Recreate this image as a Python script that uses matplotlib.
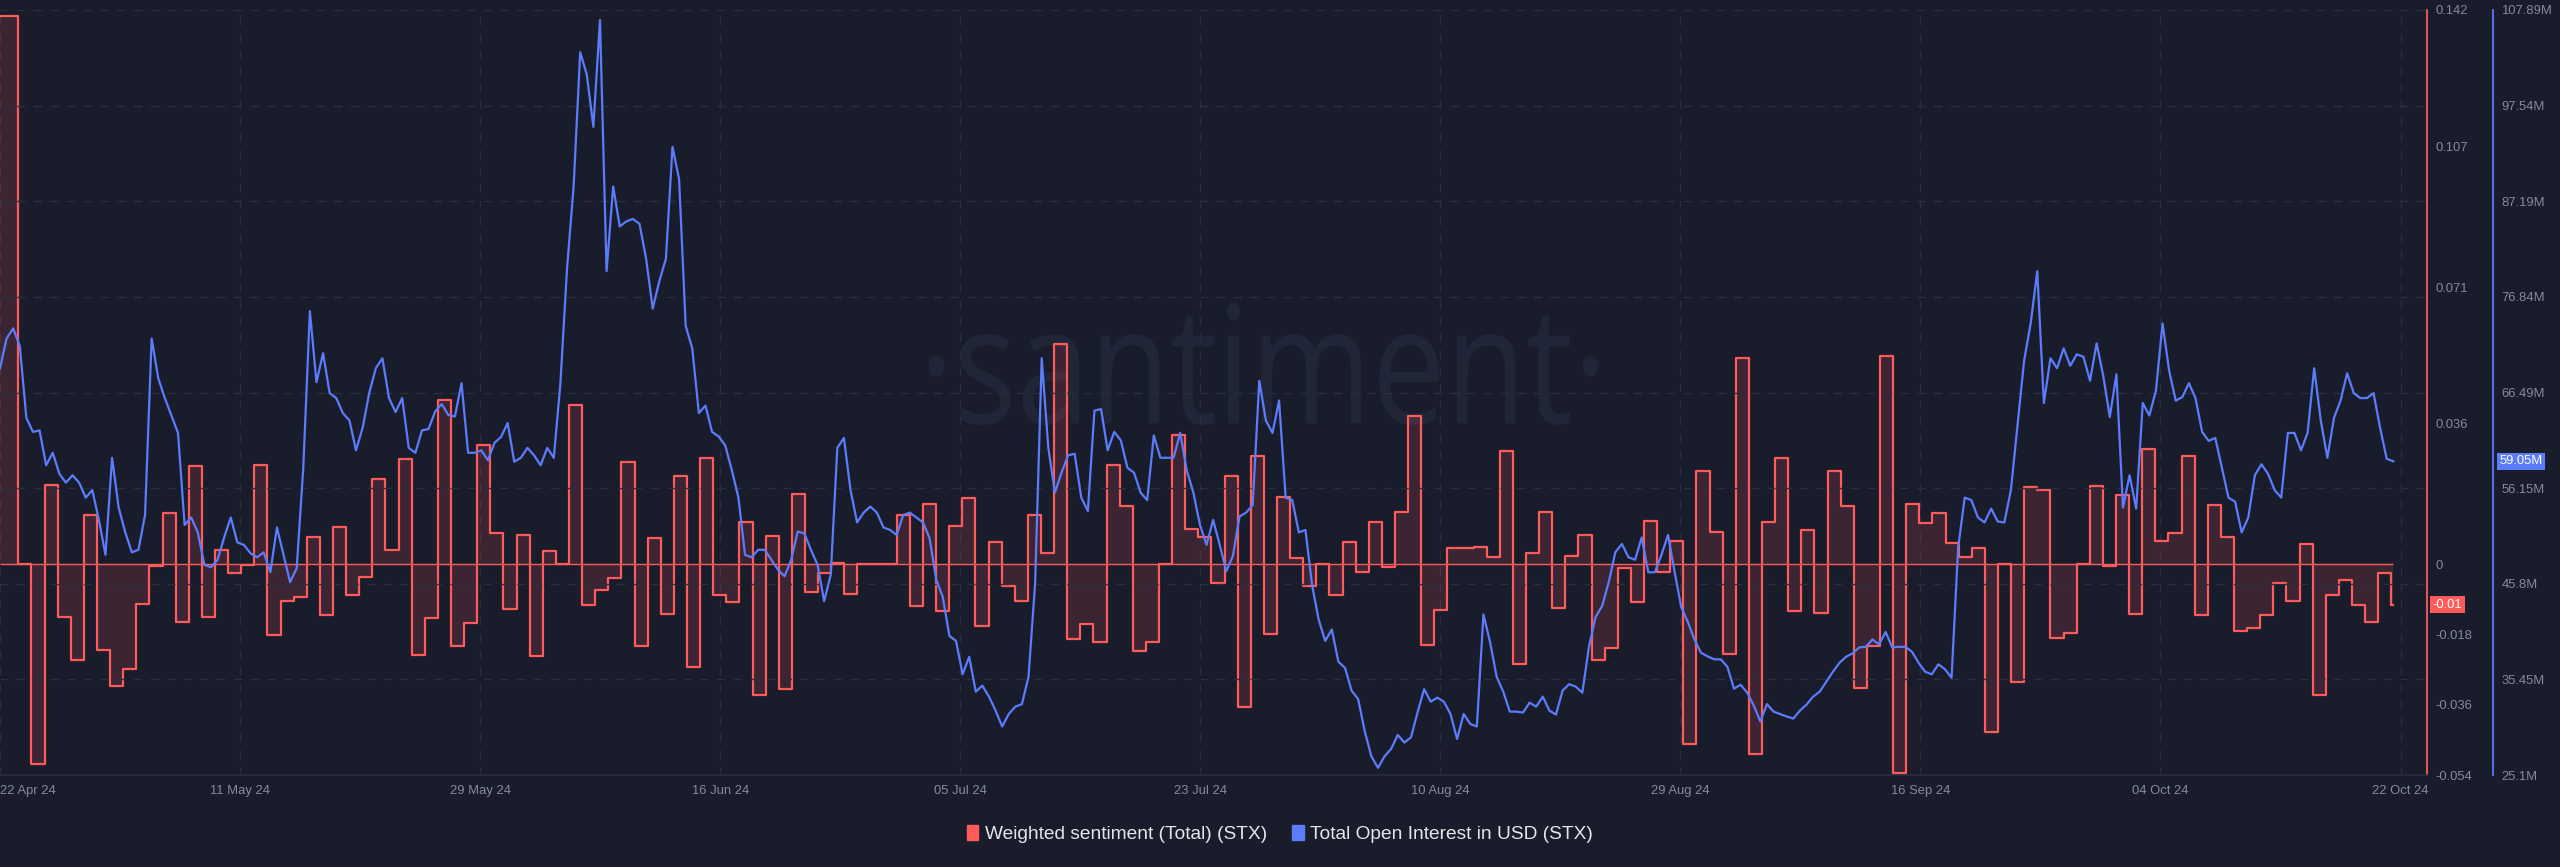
import numpy as np
import pandas as pd
import matplotlib as mpl
mpl.use('Agg')
import matplotlib.pyplot as plt
import matplotlib.dates as mdates
from matplotlib.patches import Patch, PathPatch
from matplotlib.textpath import TextPath
from matplotlib.font_manager import FontProperties
from matplotlib.transforms import Affine2D, IdentityTransform

plt.rcParams['font.family'] = ['Liberation Sans', 'DejaVu Sans']

# weighted sentiment, one value a day from 22 Apr 24
sentiment = [
    0.1405, 0.0, -0.0512, 0.0204, -0.0136, -0.0245, 0.0127, -0.022, -0.0312, -0.0268,
    -0.0102, -0.0004, 0.013, -0.0147, 0.0251, -0.0134, 0.0036, -0.0023, -0.0003, 0.0255,
    -0.0181, -0.0093, -0.0083, 0.0069, -0.0131, 0.0096, -0.0079, -0.0032, 0.0219, 0.0037,
    0.027, -0.0232, -0.0138, 0.0421, -0.021, -0.015, 0.0306, 0.0079, -0.0115, 0.0074,
    -0.0236, 0.0034, 0.0, 0.0408, -0.0105, -0.0066, -0.0036, 0.0261, -0.021, 0.0068,
    -0.0127, 0.0227, -0.0263, 0.0273, -0.008, -0.0098, 0.0107, -0.0335, 0.0073, -0.0319,
    0.0181, -0.007, -0.0023, 0.0003, -0.0076, 0.0, 0.0, 0.0, 0.0125, -0.0107,
    0.0155, -0.0119, 0.0099, 0.017, -0.0159, 0.0056, -0.0057, -0.0093, 0.0127, 0.0028,
    0.0563, -0.0191, -0.0153, -0.0198, 0.0255, 0.0149, -0.0223, -0.02, 0.0, 0.0331,
    0.0089, 0.007, -0.0047, 0.0226, -0.0366, 0.0278, -0.0178, 0.0172, 0.0017, -0.0055,
    0.0, -0.008, 0.0057, -0.0019, 0.0108, -0.0006, 0.0134, 0.0379, -0.0208, -0.0117,
    0.0042, 0.0042, 0.0045, 0.0019, 0.0289, -0.0255, 0.0029, 0.0134, -0.0111, 0.0022,
    0.0074, -0.0246, -0.0214, -0.0009, -0.0096, 0.0111, -0.0019, 0.006, -0.0461, 0.0238,
    0.0082, -0.0229, 0.0529, -0.0487, 0.0108, 0.0273, -0.0119, 0.0087, -0.0125, 0.024,
    0.015, -0.0316, -0.021, 0.0533, -0.0535, 0.0155, 0.0105, 0.013, 0.0054, 0.0019,
    0.0041, -0.0431, 0.0, -0.0302, 0.0198, 0.0191, -0.0189, -0.0176, 0.0, 0.0201,
    -0.0004, 0.0178, -0.0127, 0.0296, 0.006, 0.008, 0.0277, -0.013, 0.0153, 0.007,
    -0.0172, -0.0163, -0.0131, -0.0048, -0.0093, 0.0051, -0.0334, -0.008, -0.0041, -0.0105,
    -0.0149, -0.0022, -0.0104,
]

# total open interest in USD, millions, every half day
open_interest = [
    69.12, 72.35, 73.43, 71.54, 63.74, 62.23, 62.39, 58.62, 59.97, 57.70,
    56.74, 57.54, 56.74, 55.12, 55.93, 52.70, 48.93, 59.43, 54.04, 51.35,
    49.20, 49.47, 53.24, 72.35, 68.04, 65.89, 64.01, 62.12, 52.16, 52.97,
    51.35, 47.85, 47.58, 48.39, 50.81, 52.97, 50.27, 50.00, 49.09, 48.66,
    49.20, 47.04, 51.89, 48.93, 45.97, 47.47, 58.35, 75.30, 67.61, 70.74,
    66.43, 65.89, 64.27, 63.47, 60.24, 62.66, 66.43, 69.12, 70.20, 65.89,
    64.38,
    65.89, 60.50, 59.97, 62.39, 62.55, 64.44, 65.24, 64.06, 63.90, 67.50,
    59.97, 59.97, 60.24, 59.16, 61.04, 61.69, 63.20, 59.00, 59.43, 60.50,
    59.70, 58.62, 60.50, 59.43, 67.50, 79.89, 88.78, 103.32, 100.89, 95.24,
    106.82, 79.62, 88.78, 84.47, 85.01, 85.28, 84.74, 80.97, 75.58, 78.54,
    80.97, 93.08, 89.58, 73.70, 71.27, 64.27, 65.08, 62.23, 61.74, 60.77,
    58.08, 55.12, 48.93, 48.66, 49.47, 49.47, 48.39, 47.31, 46.61, 48.39,
    51.46,
    51.24, 49.47, 47.85, 43.92, 46.77, 60.50, 61.58, 55.93, 52.43, 53.50,
    54.15, 53.50, 51.89, 51.62, 51.08, 53.24, 53.50, 52.97, 52.43, 50.70,
    46.24, 44.35, 40.15, 39.61, 36.01, 37.89, 34.12, 34.77, 33.58, 32.08,
    30.35, 31.70, 32.50, 32.77, 35.73, 45.86, 70.20, 60.50, 55.66, 57.81,
    59.70, 59.86, 55.12, 53.67, 64.54, 64.70, 60.24, 62.23, 61.31, 58.35,
    57.81, 55.66, 54.85, 61.85, 59.43, 59.43, 59.43, 62.12, 58.08, 55.66,
    52.16, 50.00, 52.70, 50.00, 47.15, 48.82, 53.07, 53.50, 54.31, 67.77,
    63.47, 62.12, 65.62, 55.12, 54.85, 51.35, 51.62, 45.70, 41.93, 39.61,
    40.85, 37.35, 36.70, 34.23, 33.31, 29.81, 27.12, 25.88, 27.12, 27.93,
    29.43, 28.62, 29.16, 31.86, 34.39, 33.04, 33.47, 33.04, 31.70, 29.00,
    31.70, 30.62, 30.35, 42.47, 39.50, 35.73, 34.12, 31.96, 31.96, 31.86,
    32.93, 32.50, 33.58, 32.07, 31.64, 34.23, 34.93, 34.66, 34.01, 38.97,
    42.20,
    43.38, 45.97, 49.20, 50.11, 48.66, 48.39, 50.81, 47.04, 47.04, 48.93,
    51.08, 47.04, 43.27, 41.66, 39.77, 38.32, 37.94, 37.62, 37.62, 36.81,
    34.44, 34.87, 34.01, 32.61, 30.89, 32.77, 31.96, 31.70, 31.43, 31.21,
    32.07, 32.72, 33.58, 34.12, 35.20, 36.27, 37.24, 37.89, 38.27, 38.91,
    38.97, 39.77, 39.24, 40.58, 38.91, 38.97, 38.97, 38.43, 37.24, 36.27,
    36.00, 37.08, 36.54, 35.63, 49.74, 55.12, 54.85, 52.97, 52.43, 53.93,
    52.54,
    52.43, 55.93, 62.93, 69.93, 73.97, 79.62, 65.35, 70.20, 69.12, 71.27,
    69.39, 70.63, 70.36, 67.77, 71.81, 68.31, 63.84, 68.47, 54.04, 57.54,
    53.93, 65.35, 64.01, 66.70, 73.97, 68.85, 65.62, 66.00, 67.50, 65.89,
    62.23, 61.26, 61.58, 58.35, 55.12, 54.69, 51.35, 52.97, 57.54, 58.73,
    57.70, 55.93, 55.12, 62.12, 62.12, 60.24, 62.12, 69.12, 63.47, 59.43,
    63.74, 65.62, 68.58, 66.43, 65.89, 65.89, 66.43, 62.66, 59.32, 59.05,
]

data_start = '2024-04-21 14:24'
data_end = '2024-10-21 03:36'
view_end = '2024-10-23 17:17'

x_labels = ['22 Apr 24', '11 May 24', '29 May 24', '16 Jun 24', '05 Jul 24', '23 Jul 24',
            '10 Aug 24', '29 Aug 24', '16 Sep 24', '04 Oct 24', '22 Oct 24']
sent_ticks = [-0.054, -0.036, -0.018, 0, 0.036, 0.071, 0.107, 0.142]
sent_labels = ['-0.054', '-0.036', '-0.018', '0', '0.036', '0.071', '0.107', '0.142']
oi_ticks = [25.1, 35.45, 45.8, 56.15, 66.49, 76.84, 87.19, 97.54, 107.89]
oi_labels = ['25.1M', '35.45M', '45.8M', '56.15M', '66.49M', '76.84M', '87.19M', '97.54M', '107.89M']

bg = '#191c2b'
red = '#ff5b5b'
blue = '#5b7cfb'
grid_c = '#2a2e3f'
txt_c = '#858a9c'

# dates
sent_days = pd.date_range('2024-04-22', periods=len(sentiment), freq='D')
sent_x = mdates.date2num(sent_days.to_pydatetime())
x0 = mdates.date2num(pd.Timestamp(data_start).to_pydatetime())
x1 = mdates.date2num(pd.Timestamp(data_end).to_pydatetime())
xv = mdates.date2num(pd.Timestamp(view_end).to_pydatetime())
sent_x[0] = x0
sx = np.append(sent_x, x1)
sy = np.append(sentiment, sentiment[-1])
oi_x = np.linspace(x0, x1, len(open_interest))

fig = plt.figure(figsize=(25.6, 8.67), dpi=100, facecolor=bg)
ax = fig.add_axes([0, 1 - 775 / 867, 2427 / 2560, 765 / 867])
ax.patch.set_visible(False)
ax2 = ax.twinx()
ax2.patch.set_visible(False)

# watermark behind the axes, fitted into its box in pixels
tp = TextPath((0, 0), '·santiment·', size=100, prop=FontProperties(family='Open Sans'))
ext = tp.get_extents()
wm_tr = (Affine2D().translate(-ext.x0, -ext.y0)
         .scale(669 / ext.width, 122 / ext.height).translate(929, 442))
wm = PathPatch(tp, transform=wm_tr + IdentityTransform(), fc='#212538', ec='none',
               clip_on=False)
wm.set_zorder(-1)
fig.add_artist(wm)

# sentiment
ax.fill_between(sx, sy, 0, step='post', color=red, alpha=0.15, lw=0, zorder=2)
ax.step(sx, sy, where='post', color=red, lw=1.6, zorder=3)
ax.hlines(0, x0, x1, color=red, lw=1, zorder=3)
ax.set_ylim(-0.054, 0.142)
ax.set_xlim(x0, xv)

# open interest
ax2.plot(oi_x, open_interest, color=blue, lw=1.6, zorder=4)
ax2.set_ylim(25.1, 107.89)

# x ticks evenly spread as on the source
xt = x0 + np.arange(len(x_labels)) * 18.31
ax.set_xticks(xt)
ax.set_xticklabels(x_labels)
ax.get_xticklabels()[0].set_ha('left')
ax.tick_params(axis='x', length=0, pad=7, labelsize=9.4, colors=txt_c)
ax.grid(axis='x', color=grid_c, lw=1, ls=(0, (6, 6)))

ax.yaxis.tick_right()
ax.set_yticks(sent_ticks)
ax.set_yticklabels(sent_labels)
ax.tick_params(axis='y', length=0, pad=6, labelsize=9.4, colors=txt_c)

ax2.set_yticks(oi_ticks)
ax2.set_yticklabels(oi_labels)
ax2.tick_params(axis='y', length=0, pad=6, labelsize=9.4, colors=txt_c)
ax2.grid(axis='y', color=grid_c, lw=1, ls=(0, (6, 6)))

for s in ['left', 'top']:
    ax.spines[s].set_visible(False)
    ax2.spines[s].set_visible(False)
ax2.spines['bottom'].set_visible(False)
ax.spines['bottom'].set_color('#2a2e3e')
ax.spines['bottom'].set_linewidth(1.2)
ax.spines['right'].set_color(red)
ax.spines['right'].set_linewidth(1.3)
ax2.spines['right'].set_color(blue)
ax2.spines['right'].set_linewidth(1.3)
ax2.spines['right'].set_position(('outward', 66 * 72 / 100))

# last value tags
ax.annotate('%.2f' % sentiment[-1], xy=(1, sentiment[-1]), xycoords=('axes fraction', 'data'),
            xytext=(4, 0), textcoords='offset points', ha='left', va='center',
            color='white', fontsize=9.4,
            bbox=dict(boxstyle='square,pad=0.2', fc=red, ec='none'), annotation_clip=False)
ax2.annotate('%.2fM' % open_interest[-1], xy=(1, open_interest[-1]), xycoords=('axes fraction', 'data'),
             xytext=(52, 0), textcoords='offset points', ha='left', va='center',
             color='white', fontsize=9.4,
             bbox=dict(boxstyle='square,pad=0.2', fc=blue, ec='none'), annotation_clip=False)

handles = [Patch(color=red), Patch(color=blue)]
fig.legend(handles, ['Weighted sentiment (Total) (STX)', 'Total Open Interest in USD (STX)'],
           loc='center', bbox_to_anchor=(0.5, 1 - 834 / 867), ncol=2, frameon=False,
           handlelength=0.6, handleheight=0.8, handletextpad=0.35, columnspacing=1.3,
           fontsize=13.8, labelcolor='#e6e6ea')

fig.savefig('out.png', dpi=100, facecolor=bg)
